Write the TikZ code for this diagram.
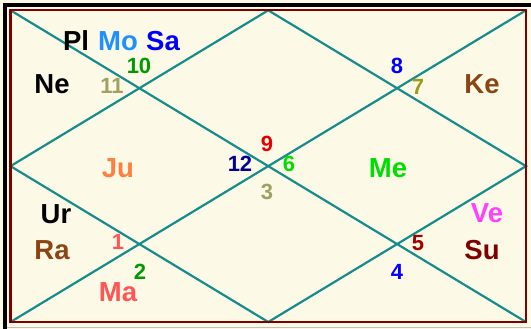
\documentclass[tikz,border=0pt]{standalone}
\usepackage{fontspec}
\setmainfont{Liberation Sans}
\usepackage{xcolor}
\usetikzlibrary{calc}

\definecolor{paper}{HTML}{FCFAE6}
\definecolor{grid}{HTML}{178C8C}
\definecolor{frame}{HTML}{800000}
\definecolor{dodger}{HTML}{1E90FF}
\definecolor{leaf}{HTML}{009900}
\definecolor{khaki}{HTML}{A0A060}
\definecolor{mustard}{HTML}{A09A18}
\definecolor{rust}{HTML}{8B4513}
\definecolor{navy}{HTML}{000099}
\definecolor{lime}{HTML}{00DD00}
\definecolor{coral}{HTML}{FF7F3F}
\definecolor{salmon}{HTML}{FF5555}
\definecolor{pinkish}{HTML}{FF40FF}
\definecolor{maroon}{HTML}{800000}
\definecolor{brick}{HTML}{A00000}

\begin{document}
\begin{tikzpicture}[
    x=1pt,y=-1pt,
    every node/.style={inner sep=0pt},
    planet/.style={font=\fontsize{27.5}{30}\selectfont\bfseries},
    house/.style={font=\fontsize{22}{24}\selectfont\bfseries},
    cut/.style={grid,line width=2.2pt},
  ]
  \def\L{10.5}\def\T{10.3}\def\R{526}\def\B{322}

  % -- page and bevelled edge --
  \fill[paper] (0,0) rectangle (531,329);
  \useasboundingbox (0,0) rectangle (531,329);
  \draw[black,line width=4pt] (4.5,329) -- (4.5,5.5) -- (531,5.5);
  \draw[black!25,line width=0.8pt] (7,327.5) -- (531,327.5);

  % -- corners and midpoints of the chart --
  \coordinate (tl) at (\L,\T);
  \coordinate (tr) at (\R,\T);
  \coordinate (bl) at (\L,\B);
  \coordinate (br) at (\R,\B);
  \coordinate (tm) at ($(tl)!.5!(tr)$);
  \coordinate (bm) at ($(bl)!.5!(br)$);
  \coordinate (lm) at ($(tl)!.5!(bl)$);
  \coordinate (rm) at ($(tr)!.5!(br)$);

  % -- the diagonals and the diamond --
  \draw[cut] (tl) -- (br);
  \draw[cut] (tr) -- (bl);
  \draw[cut] (tm) -- (rm) -- (bm) -- (lm) -- cycle;
  \draw[frame,line width=2.3pt] (tl) rectangle (br);

  % -- house numbers --
  \node[house,text=leaf]    (h10) at (139,66)  {10};
  \node[house,text=khaki]   (h11) at (112,86)  {11};
  \node[house,text=blue]    (h8)  at (397,66)  {8};
  \node[house,text=mustard] (h7)  at (418,87)  {7};
  \node[house,text=red!90!black] (h9) at (267,144) {9};
  \node[house,text=navy]    (h12) at (240,164) {12};
  \node[house,text=lime]    (h6)  at (289,164) {6};
  \node[house,text=khaki]   (h3)  at (267,192) {3};
  \node[house,text=salmon]  (h1)  at (118,242) {1};
  \node[house,text=leaf]    (h2)  at (140,272) {2};
  \node[house,text=brick]   (h5)  at (418,243) {5};
  \node[house,text=blue]    (h4)  at (397,272) {4};

  % -- planets --
  \node[planet]               (pl) at (76,41)  {Pl};
  \node[planet,text=dodger]   (mo) at (118,41) {Mo};
  \node[planet,text=blue]     (sa) at (163,41) {Sa};
  \node[planet]               (ne) at (52,84)  {Ne};
  \node[planet,text=rust]     (ke) at (482,84) {Ke};
  \node[planet,text=coral]    (ju) at (118,168) {Ju};
  \node[planet,text=lime]     (me) at (388,168) {Me};
  \node[planet]               (ur) at (56,214) {Ur};
  \node[planet,text=rust]     (ra) at (52,250) {Ra};
  \node[planet,text=salmon]   (ma) at (118,292) {Ma};
  \node[planet,text=pinkish]  (ve) at (487,213) {Ve};
  \node[planet,text=maroon]   (su) at (482,250) {Su};
\end{tikzpicture}
\end{document}
